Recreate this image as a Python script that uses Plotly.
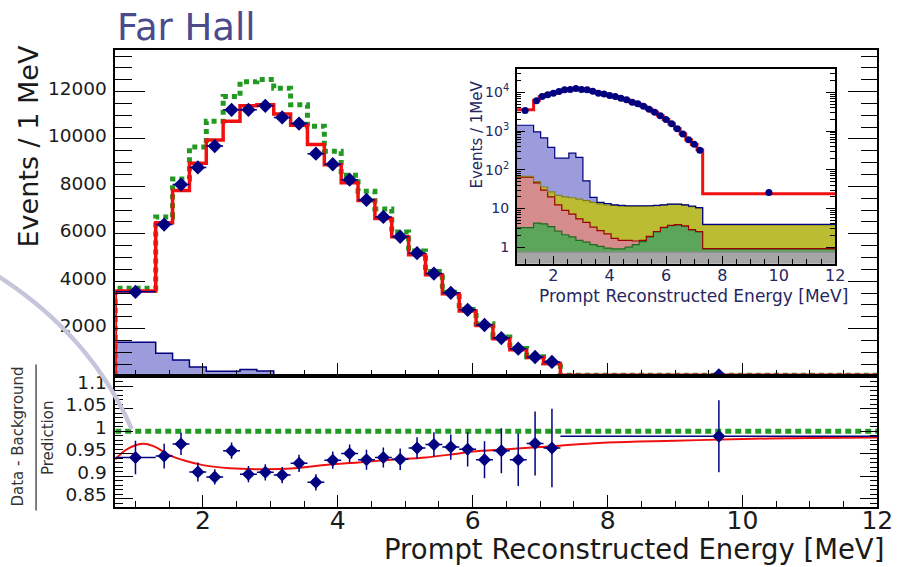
import plotly.graph_objects as go

W, H = 914, 567

# ---------------- data ----------------
# main panel binning (MeV)
edges_main = [0.7, 1.3, 1.55, 1.8, 2.05, 2.3, 2.55, 2.8, 3.05, 3.3, 3.55, 3.8, 4.05,
              4.3, 4.55, 4.8, 5.05, 5.3, 5.55, 5.8, 6.05, 6.3, 6.55, 6.8, 7.05, 7.3, 12.0]
data_main = [3550, 6390, 8075, 8800, 9700, 11230, 11230, 11400, 10910, 10650, 9380, 8935,
             8285, 7430, 6710, 5875, 5180, 4320, 3510, 2790, 2150, 1600, 1150, 800, 590, 25]
pred_osc_main = [3580, 6460, 7825, 8977, 9955, 10748, 11400, 11440, 11050, 10580, 9770, 8910,
                 8155, 7405, 6640, 5875, 5110, 4275, 3470, 2745, 2125, 1570, 1110, 780, 530, 25]
pred_noosc_main = [3700, 6710, 8310, 9662, 10748, 11790, 12417, 12513, 12138, 11440, 10540, 9480,
                   8470, 7790, 7050, 6075, 5270, 4410, 3530, 2800, 2200, 1640, 1160, 810, 560, 26]

# background stack levels (cumulative tops, events / MeV)
bkg_total_top = [1420, 960, 670, 380, 200, 200, 270, 210, 52, 19.5, 14.5, 13.5, 12.5, 12,
                 11.8, 11.8, 11.8, 11.8, 12, 12.5, 13, 13, 12.5, 11.5, 10.5, 3.9]
bkg_yellow_top = [68, 50, 36, 27, 22, 20, 19, 17.5, 16, 14.5, 13.2, 12.5, 12, 11.5,
                  11.4, 11.4, 11.4, 11.5, 11.8, 12.4, 12.8, 12.8, 12.2, 11.2, 10.2, 3.8]
bkg_pink_top = [65, 46, 30, 20, 12.5, 9, 7.2, 5.4, 4.4, 3.3, 2.7, 2.2, 1.7, 1.5,
                1.5, 1.45, 1.5, 1.9, 2.55, 3.25, 3.65, 3.85, 3.55, 2.85, 2.55, 0.92]
bkg_green_top = [3.2, 4.2, 4.0, 3.4, 2.6, 2.1, 1.85, 1.5, 1.35, 1.17, 1.05, 0.95, 0.91, 0.91,
                 1.0, 1.17, 1.4, 1.85, 2.5, 3.2, 3.6, 3.8, 3.5, 2.8, 2.5, 0.9]
bkg_gray_top = [0.75] * 26

# ratio panel
ratio_data = [0.942, 0.945, 0.972, 0.910, 0.899, 0.957, 0.905, 0.909, 0.903, 0.929, 0.887, 0.936,
              0.951, 0.937, 0.942, 0.938, 0.963, 0.971, 0.965, 0.960, 0.937, 0.957, 0.937, 0.973,
              0.963, 0.989]
ratio_err = [0.037, 0.0275, 0.0245, 0.021, 0.017, 0.018, 0.018, 0.018, 0.018, 0.019, 0.018, 0.019,
             0.020, 0.022, 0.022, 0.024, 0.024, 0.027, 0.028, 0.038, 0.041, 0.050, 0.058, 0.071,
             0.087, 0.080]
fit_energy = [0.7, 0.85, 1.0, 1.15, 1.3, 1.5, 1.75, 2.0, 2.4, 2.9, 3.35, 3.85, 4.3, 4.8, 5.3,
              5.7, 6.0, 6.5, 7.0, 8.0, 9.0, 10.0, 11.0, 12.0]
fit_ratio = [0.938, 0.958, 0.969, 0.972, 0.965, 0.947, 0.934, 0.925, 0.918, 0.916, 0.918, 0.926,
             0.931, 0.937, 0.942, 0.949, 0.955, 0.960, 0.965, 0.975, 0.979, 0.983, 0.985, 0.986]

# inset binning
edges_inset = [0.7, 1.3, 1.5, 1.7, 1.9, 2.1, 2.3, 2.5, 2.7, 2.9, 3.1, 3.3, 3.5, 3.7, 3.9, 4.1,
               4.3, 4.5, 4.7, 4.9, 5.1, 5.3, 5.5, 5.7, 5.9, 6.1, 6.3, 6.5, 6.7, 6.9, 7.1, 7.3, 12.0]
data_inset = [3400, 6100, 7900, 8700, 9600, 10600, 11700, 12000, 12600, 12000, 11700, 10700,
              9600, 9100, 8300, 7900, 7100, 6500, 5600, 5100, 4400, 3700, 3100, 2500, 2000,
              1550, 1150, 850, 600, 460, 320, 26]
pred_inset = [3550, 6200, 7800, 8800, 9700, 10500, 11500, 12100, 12400, 12200, 11600, 10800,
              9800, 9200, 8400, 7800, 7100, 6400, 5700, 5000, 4400, 3700, 3100, 2500, 2000,
              1550, 1150, 850, 600, 450, 330, 24]

main_ticks_y = [2000, 4000, 6000, 8000, 10000, 12000]
main_ticktext = ['2000', '4000', '6000', '8000', '10000', '12000']
ratio_ticks = [0.85, 0.9, 0.95, 1.0, 1.05, 1.1]
ratio_ticktext = ['0.85', '0.9', '0.95', '1', '1.05', '1.1']
inset_ticks = [1, 10, 100, 1000, 10000]
inset_ticktext = ['1', '10', '10<sup>2</sup>', '10<sup>3</sup>', '10<sup>4</sup>']

# ---------------- helpers ----------------
def centers(e):
    return [(e[i] + e[i + 1]) / 2 for i in range(len(e) - 1)]

def halfw(e):
    return [(e[i + 1] - e[i]) / 2 for i in range(len(e) - 1)]

def step(e, v, start=None):
    x = list(e)
    y = list(v) + [v[-1]]
    if start is not None:
        x = [e[0]] + x
        y = [start] + y
    return x, y

def fx(p):
    return p / W

def fy(p):
    return 1 - p / H

NAVY = '#000080'
RED = '#f01010'
GREEN = '#229922'
TXT = '#1a1a1a'
INSET_TXT = '#262660'
FONT = 'DejaVu Sans'

# pixel geometry
MX0, MX1 = 117.3, 893.0
MY0, MY1 = 46.7, 374.4      # top panel
RY1 = 506.7                 # ratio bottom
IX0, IX1, IY0, IY1 = 525.9, 850.0, 65.7, 261.7

fig = go.Figure()

# ---- main panel ----
x, y = step(edges_main, bkg_total_top)
fig.add_trace(go.Scatter(x=x, y=y, mode='lines', line=dict(shape='hv', color=NAVY, width=1.5),
                         fill='tozeroy', fillcolor='#9c9cdc', xaxis='x', yaxis='y'))
x, y = step(edges_main, pred_noosc_main, start=0)
fig.add_trace(go.Scatter(x=x, y=y, mode='lines',
                         line=dict(shape='hv', color=GREEN, width=5, dash='5px,4px'),
                         xaxis='x', yaxis='y'))
x, y = step(edges_main, pred_osc_main, start=0)
fig.add_trace(go.Scatter(x=x, y=y, mode='lines', line=dict(shape='hv', color=RED, width=3.5),
                         xaxis='x', yaxis='y'))
fig.add_trace(go.Scatter(x=centers(edges_main), y=data_main, mode='markers',
                         marker=dict(symbol='diamond', size=11, color=NAVY),
                         error_x=dict(type='data', array=halfw(edges_main), color=NAVY,
                                      thickness=1.5, width=0),
                         xaxis='x', yaxis='y'))

# ---- ratio panel ----
fig.add_trace(go.Scatter(x=[edges_main[0], edges_main[-1]], y=[1, 1], mode='lines',
                         line=dict(color=GREEN, width=5, dash='6px,4px'),
                         xaxis='x2', yaxis='y2'))
fig.add_trace(go.Scatter(x=fit_energy, y=fit_ratio, mode='lines',
                         line=dict(color=RED, width=2, shape='spline'),
                         xaxis='x2', yaxis='y2'))
fig.add_trace(go.Scatter(x=centers(edges_main), y=ratio_data, mode='markers',
                         marker=dict(symbol='diamond', size=10, color=NAVY),
                         error_x=dict(type='data', array=halfw(edges_main), color=NAVY,
                                      thickness=1.5, width=0),
                         error_y=dict(type='data', array=ratio_err, color=NAVY,
                                      thickness=1.5, width=0),
                         xaxis='x2', yaxis='y2'))

# ---- inset (log) ----
x, y = step(edges_main, [0.1] * 26)
fig.add_trace(go.Scatter(x=x, y=y, mode='lines', line=dict(shape='hv', width=0, color='#a6a6a6'),
                         xaxis='x3', yaxis='y3'))
layers = [
    (bkg_gray_top, '#a6a6a6', '#8a8a8a'),
    (bkg_green_top, '#5ca65c', '#1f6a1f'),
    (bkg_pink_top, '#d48c8c', '#9a0000'),
    (bkg_yellow_top, '#bcbc33', '#80801a'),
    (bkg_total_top, '#9c9cdc', NAVY),
]
for vals, fc, lc in layers:
    x, y = step(edges_main, vals)
    fig.add_trace(go.Scatter(x=x, y=y, mode='lines', line=dict(shape='hv', color=lc, width=1.2),
                             fill='tonexty', fillcolor=fc, xaxis='x3', yaxis='y3'))
x, y = step(edges_inset, pred_inset)
fig.add_trace(go.Scatter(x=x, y=y, mode='lines', line=dict(shape='hv', color=RED, width=3),
                         xaxis='x3', yaxis='y3'))
fig.add_trace(go.Scatter(x=centers(edges_inset), y=data_inset, mode='markers',
                         marker=dict(symbol='circle', size=7, color=NAVY),
                         xaxis='x3', yaxis='y3'))

# ---------------- axes ----------------
common = dict(showgrid=False, zeroline=False, showline=True, linecolor='black', linewidth=1.5,
              ticks='inside', tickcolor='black')
xdom = [fx(MX0), fx(MX1)]

fig.update_layout(
    width=W, height=H, margin=dict(l=0, r=0, t=0, b=0),
    paper_bgcolor='white', plot_bgcolor='white', showlegend=False,
    font=dict(family=FONT, color=TXT),
    xaxis=dict(common, domain=xdom, range=[0.7, 12], anchor='y', mirror=True,
               tick0=0, dtick=2, ticklen=13, tickwidth=1.2, showticklabels=False,
               minor=dict(ticks='inside', tick0=0, dtick=0.5, ticklen=6, tickwidth=1,
                          tickcolor='black', showgrid=False)),
    yaxis=dict(common, domain=[fy(MY1), fy(MY0)], range=[8, 13740], anchor='x',
               mirror='allticks', tickmode='array', tickvals=main_ticks_y,
               ticktext=main_ticktext,
               ticklen=30, tickwidth=1.2, ticklabelstandoff=3, ticklabelshift=-3,
               tickfont=dict(size=18.5, family=FONT, color=TXT),
               minor=dict(ticks='inside', tickmode='linear', tick0=0, dtick=500, ticklen=17,
                          tickwidth=1, tickcolor='black', showgrid=False)),
    xaxis2=dict(common, domain=xdom, range=[0.7, 12], anchor='y2', mirror=True,
                tick0=0, dtick=2, ticklen=12, tickwidth=1.2, ticklabelstandoff=-10,
                tickfont=dict(size=25, family=FONT, color=TXT),
                minor=dict(ticks='inside', tick0=0, dtick=0.5, ticklen=6, tickwidth=1,
                           tickcolor='black', showgrid=False)),
    yaxis2=dict(common, domain=[fy(RY1), fy(MY1)], range=[0.832, 1.123], anchor='x2',
                mirror='allticks', tickmode='array', tickvals=ratio_ticks,
                ticktext=ratio_ticktext, ticklen=18, tickwidth=1.2,
                ticklabelstandoff=3, ticklabelshift=-4,
                tickfont=dict(size=18.5, family=FONT, color=TXT),
                minor=dict(ticks='inside', tickmode='linear', tick0=0, dtick=0.01, ticklen=8,
                           tickwidth=1, tickcolor='black', showgrid=False)),
    xaxis3=dict(common, domain=[fx(IX0), fx(IX1)], range=[0.7, 12], anchor='y3', mirror=True,
                tick0=0, dtick=2, ticklen=8, tickwidth=1.2, ticklabelstandoff=-4,
                tickfont=dict(size=16, family=FONT, color=INSET_TXT),
                minor=dict(ticks='inside', tick0=0, dtick=0.5, ticklen=5, tickwidth=1,
                           tickcolor='black', showgrid=False)),
    yaxis3=dict(common, type='log', domain=[fy(IY1), fy(IY0)], range=[-0.43, 4.6],
                anchor='x3', mirror='allticks', tickmode='array', tickvals=inset_ticks,
                ticktext=inset_ticktext, ticklen=9, tickwidth=1.2, ticklabelstandoff=3,
                tickfont=dict(size=14, family=FONT, color=INSET_TXT),
                minor=dict(ticks='inside', tickmode='array',
                           tickvals=[m * d for d in [1, 10, 100, 1000, 10000] for m in range(2, 10)],
                           ticklen=5, tickwidth=1, tickcolor='black', showgrid=False)),
)

# ---------------- text ----------------
ann = [
    dict(text='Far Hall', x=fx(117), y=fy(24), xanchor='left', yanchor='middle',
         font=dict(size=37, color='#4b4b8c', family=FONT)),
    dict(text='Events / 1 MeV', x=fx(30), y=fy(143), textangle=-90,
         xanchor='center', yanchor='middle',
         font=dict(size=27, color=TXT, family=FONT)),
    dict(text='Data - Background', x=fx(18), y=fy(436), textangle=-90,
         xanchor='center', yanchor='middle',
         font=dict(size=15, color='#333333', family=FONT)),
    dict(text='Prediction', x=fx(49), y=fy(437), textangle=-90,
         xanchor='center', yanchor='middle',
         font=dict(size=15, color='#333333', family=FONT)),
    dict(text='Prompt Reconstructed Energy [MeV]', x=fx(389), y=fy(549), xanchor='left',
         yanchor='middle', font=dict(size=27.5, color=TXT, family=FONT)),
    dict(text='Prompt Reconstructed Energy [MeV]', x=fx(547), y=fy(294),
         xanchor='left', yanchor='middle',
         font=dict(size=17, color=INSET_TXT, family=FONT)),
    dict(text='Events / 1MeV', x=fx(486), y=fy(131), textangle=-90,
         xanchor='center', yanchor='middle',
         font=dict(size=15, color=INSET_TXT, family=FONT)),
]
for a in ann:
    a.update(xref='paper', yref='paper', showarrow=False)
fig.update_layout(annotations=ann)

fig.update_layout(shapes=[
    dict(type='line', xref='paper', yref='paper', x0=fx(36.7), x1=fx(36.7),
         y0=fy(363), y1=fy(510), line=dict(color='#555555', width=1.5)),
    dict(type='path', xref='paper', yref='paper', layer='above',
         path=f'M {fx(-2)},{fy(274)} Q {fx(93)},{fy(334.5)} {fx(134)},{fy(428)}',
         line=dict(color='#c5c5dc', width=4.5)),
])

fig.write_html('out.html')
